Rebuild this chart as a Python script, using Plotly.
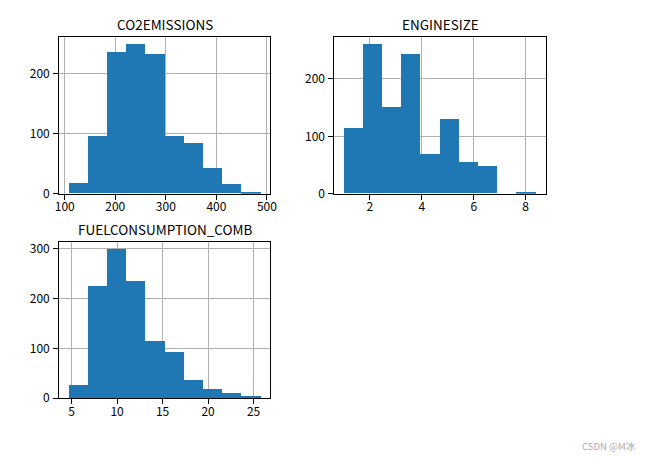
import numpy as np
import plotly.graph_objects as go

# Histogram data (10 bins each, range = [min, max] of the column)
co2_range = [108, 488]
co2_counts = [18, 96, 235, 248, 232, 96, 84, 42, 15, 1]

eng_range = [1.0, 8.4]
eng_counts = [114, 259, 151, 243, 68, 129, 54, 47, 0, 2]

fuel_range = [4.7, 25.8]
fuel_counts = [27, 226, 299, 236, 115, 94, 38, 18, 10, 4]

titles = ["CO2EMISSIONS", "ENGINESIZE", "FUELCONSUMPTION_COMB"]
co2_xticks = [100, 200, 300, 400, 500]
eng_xticks = [2, 4, 6, 8]
fuel_xticks = [5, 10, 15, 20, 25]
co2_yticks = [0, 100, 200]
eng_yticks = [0, 100, 200]
fuel_yticks = [0, 100, 200, 300]

W, H = 656, 468
OFF = 8  # browser body margin
FW, FH = W - 2 * OFF, H - 2 * OFF
FONT = "Noto Sans CJK SC"
BLUE = "#1f77b4"


def px_x(p):
    return (p - OFF) / FW


def px_y(p):
    return 1 - (p - OFF) / FH


panels = [
    (co2_range, co2_counts, co2_xticks, co2_yticks, (56, 271), (35, 195)),
    (eng_range, eng_counts, eng_xticks, eng_yticks, (336, 551), (35, 195)),
    (fuel_range, fuel_counts, fuel_xticks, fuel_yticks, (56, 271), (244, 404)),
]

fig = go.Figure()
layout = {}
annotations = []
for i, (rng, counts, xt, yt, (xl, xr), (yt_px, yb_px)) in enumerate(panels, start=1):
    edges = np.linspace(rng[0], rng[1], len(counts) + 1)
    centers = (edges[:-1] + edges[1:]) / 2
    width = edges[1] - edges[0]
    sfx = "" if i == 1 else str(i)
    fig.add_trace(go.Bar(
        x=centers, y=counts, width=width, marker=dict(color=BLUE, line=dict(width=0)),
        xaxis="x" + sfx, yaxis="y" + sfx, showlegend=False, hoverinfo="x+y",
    ))
    span = rng[1] - rng[0]
    ymax = max(counts) * 1.05
    common = dict(
        ticks="outside", ticklen=5, tickcolor="black", tickwidth=1,
        showgrid=True, gridcolor="#b0b0b0", gridwidth=1,
        showline=True, linecolor="black", linewidth=1, mirror=True,
        zeroline=False, tickfont=dict(family=FONT, size=12, color="black"),
        layer="above traces",
    )
    layout["xaxis" + sfx] = dict(
        domain=[px_x(xl), px_x(xr)], anchor="y" + sfx,
        range=[rng[0] - 0.05 * span, rng[1] + 0.05 * span], tickvals=xt,
        ticklabelstandoff=-3, **common,
    )
    layout["yaxis" + sfx] = dict(
        domain=[px_y(yb_px), px_y(yt_px)], anchor="x" + sfx,
        range=[0, ymax], tickvals=yt, ticklabelstandoff=1, **common,
    )
    annotations.append(dict(
        text=titles[i - 1], xref="paper", yref="paper",
        x=px_x((xl + xr) / 2), y=px_y(yt_px - 1), xanchor="center", yanchor="bottom",
        showarrow=False, font=dict(family=FONT, size=13.5, color="black"),
    ))

annotations.append(dict(
    text="CSDN @M冰", xref="paper", yref="paper", x=px_x(645), y=px_y(453),
    xanchor="right", yanchor="middle", showarrow=False,
    font=dict(family=FONT, size=9.5, color="#aaaaaa"),
))

fig.update_layout(
    width=FW, height=FH, margin=dict(l=0, r=0, t=0, b=0),
    paper_bgcolor="white", plot_bgcolor="white", bargap=0,
    annotations=annotations, **layout,
)
fig.write_html("out.html")
